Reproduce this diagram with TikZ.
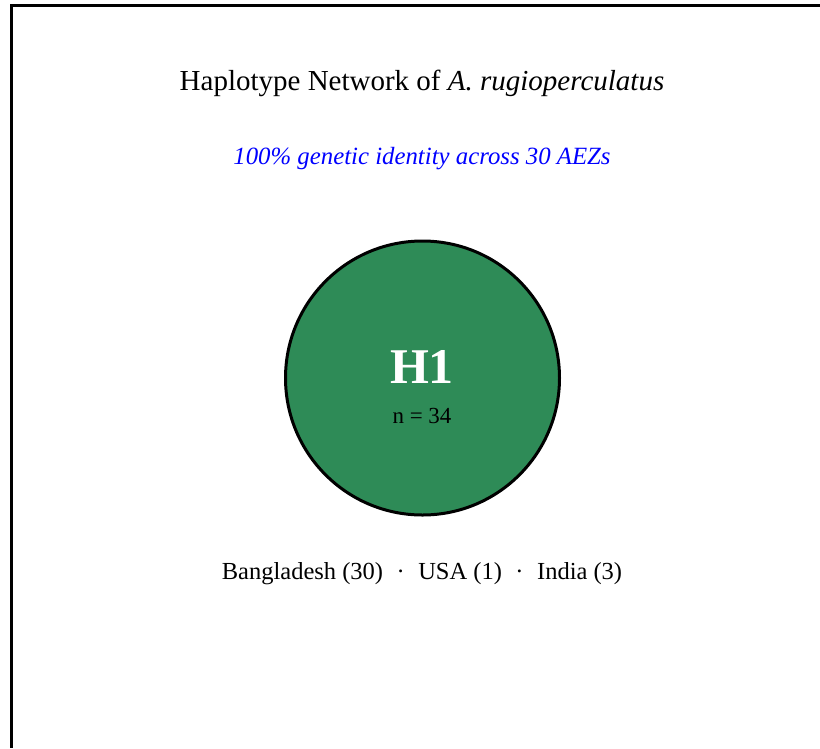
\documentclass[tikz,border=0pt]{standalone}
\usepackage{fontspec}
\setmainfont{Liberation Serif}
\definecolor{hapgreen}{HTML}{2E8B57}
\definecolor{subblue}{RGB}{0,0,255}
\newcommand{\sepdot}{\hspace{13.5pt}·\hspace{13.5pt}}
\begin{document}
\begin{tikzpicture}[x=1pt,y=-1pt,
  frameline/.style={line width=3pt,black},
  hapnode/.style={circle,draw=black,line width=3pt,fill=hapgreen,minimum size=274pt,inner sep=0pt},
  titletext/.style={font=\fontsize{29}{34}\selectfont,anchor=base},
  subtext/.style={font=\fontsize{24.8}{29}\selectfont\itshape,text=subblue,anchor=base},
  labeltext/.style={font=\fontsize{24.5}{29}\selectfont,anchor=base}]
\useasboundingbox (0,0) rectangle (820,748);
\fill[white] (0,0) rectangle (820,748);
\coordinate (tl) at (11,5.5);
\coordinate (tr) at (820,5.5);
\coordinate (bl) at (11,748);
\draw[frameline] (tr) -- (tl) -- (bl);
\node[titletext] (title) at (422,90) {Haplotype Network of \textit{A. rugioperculatus}};
\node[subtext] (sub) at (422,164) {100\% genetic identity across 30 AEZs};
\node[hapnode] (h1) at (422.5,378) {};
\node[font=\fontsize{50}{60}\selectfont\bfseries,text=white,anchor=base] (h1lab) at (422,383) {H1};
\node[font=\fontsize{23}{27}\selectfont,anchor=base] (h1n) at (422,423) {n = 34};
\node[labeltext] (countries) at (422,579) {Bangladesh (30)\sepdot USA (1)\sepdot India (3)};
\end{tikzpicture}
\end{document}
